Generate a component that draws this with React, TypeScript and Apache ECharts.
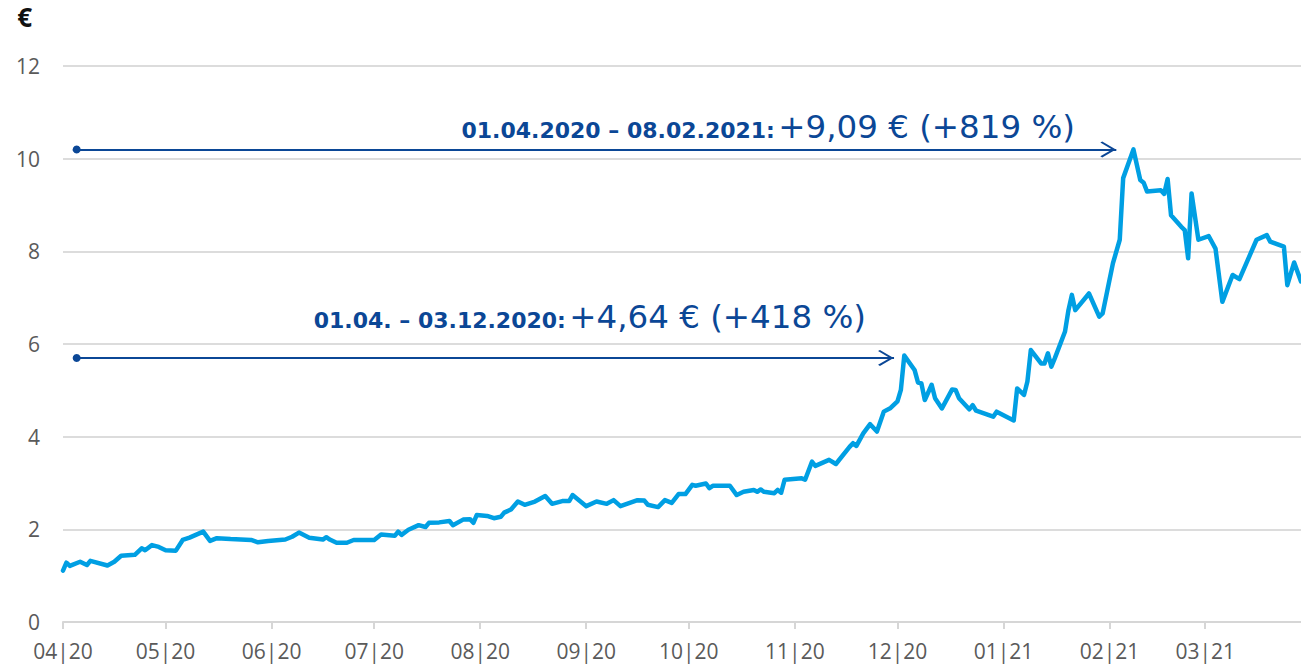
import React, { useEffect, useRef } from "react";
import * as echarts from "echarts";

const startDate = "2020-04-01";
const endDate = "2021-03-29";

const dates = [
  "2020-04-01","2020-04-02","2020-04-03","2020-04-06","2020-04-08","2020-04-09","2020-04-14","2020-04-16","2020-04-18","2020-04-22",
  "2020-04-24","2020-04-25","2020-04-27","2020-04-29","2020-05-01","2020-05-04","2020-05-06","2020-05-08","2020-05-12","2020-05-14",
  "2020-05-16","2020-05-20","2020-05-26","2020-05-28","2020-05-31","2020-06-05","2020-06-07","2020-06-09","2020-06-12","2020-06-16",
  "2020-06-17","2020-06-18","2020-06-20","2020-06-23","2020-06-25","2020-07-01","2020-07-03","2020-07-07","2020-07-08","2020-07-09",
  "2020-07-11","2020-07-14","2020-07-16","2020-07-17","2020-07-20","2020-07-23","2020-07-24","2020-07-27","2020-07-29","2020-07-30",
  "2020-07-31","2020-08-03","2020-08-05","2020-08-07","2020-08-08","2020-08-10","2020-08-12","2020-08-14","2020-08-17","2020-08-20",
  "2020-08-22","2020-08-25","2020-08-27","2020-08-28","2020-09-01","2020-09-04","2020-09-07","2020-09-09","2020-09-11","2020-09-16",
  "2020-09-18","2020-09-19","2020-09-22","2020-09-24","2020-09-26","2020-09-28","2020-09-30","2020-10-02","2020-10-03","2020-10-06",
  "2020-10-07","2020-10-08","2020-10-13","2020-10-15","2020-10-17","2020-10-20","2020-10-21","2020-10-22","2020-10-23","2020-10-26",
  "2020-10-27","2020-10-28","2020-10-29","2020-11-03","2020-11-04","2020-11-06","2020-11-07","2020-11-11","2020-11-13","2020-11-17",
  "2020-11-18","2020-11-19","2020-11-21","2020-11-23","2020-11-25","2020-11-27","2020-11-29","2020-12-01","2020-12-02","2020-12-03",
  "2020-12-06","2020-12-07","2020-12-08","2020-12-09","2020-12-11","2020-12-12","2020-12-14","2020-12-17","2020-12-18","2020-12-19",
  "2020-12-22","2020-12-23","2020-12-24","2020-12-29","2020-12-30","2021-01-04","2021-01-05","2021-01-07","2021-01-08","2021-01-09",
  "2021-01-12","2021-01-13","2021-01-14","2021-01-15","2021-01-16","2021-01-19","2021-01-20","2021-01-21","2021-01-22","2021-01-26",
  "2021-01-29","2021-01-30","2021-02-01","2021-02-02","2021-02-04","2021-02-05","2021-02-08","2021-02-10","2021-02-11","2021-02-12",
  "2021-02-16","2021-02-17","2021-02-18","2021-02-19","2021-02-22","2021-02-23","2021-02-24","2021-02-25","2021-02-27","2021-03-02",
  "2021-03-04","2021-03-06","2021-03-09","2021-03-11","2021-03-13","2021-03-16","2021-03-19","2021-03-20","2021-03-24","2021-03-25",
  "2021-03-27","2021-03-29"
];

const prices = [
  1.11,1.28,1.21,1.30,1.23,1.32,1.22,1.30,1.43,1.45,
  1.59,1.55,1.66,1.62,1.55,1.54,1.77,1.82,1.95,1.75,
  1.81,1.79,1.77,1.72,1.75,1.78,1.84,1.93,1.82,1.78,
  1.83,1.78,1.71,1.71,1.77,1.77,1.89,1.86,1.95,1.88,
  1.99,2.09,2.05,2.14,2.15,2.18,2.09,2.21,2.22,2.14,
  2.31,2.29,2.24,2.27,2.36,2.43,2.60,2.53,2.60,2.72,
  2.55,2.61,2.61,2.74,2.50,2.60,2.55,2.63,2.50,2.63,
  2.62,2.53,2.48,2.63,2.57,2.76,2.76,2.96,2.94,2.99,
  2.89,2.94,2.94,2.74,2.81,2.85,2.81,2.86,2.81,2.78,
  2.85,2.79,3.07,3.10,3.07,3.46,3.37,3.50,3.41,3.78,
  3.86,3.80,4.07,4.27,4.11,4.54,4.62,4.76,5.01,5.75,
  5.44,5.17,5.15,4.79,5.12,4.83,4.61,5.02,5.01,4.83,
  4.59,4.68,4.56,4.43,4.54,4.35,5.04,4.90,5.19,5.87,
  5.58,5.58,5.80,5.51,5.69,6.27,6.73,7.06,6.73,7.09,
  6.59,6.66,7.38,7.74,8.25,9.58,10.20,9.54,9.48,9.29,
  9.32,9.24,9.56,8.78,8.53,8.46,7.85,9.25,8.25,8.33,
  8.06,6.91,7.49,7.40,7.74,8.25,8.35,8.21,8.10,7.27,
  7.76,7.35
];

const yTicks = { min: 0, max: 12, interval: 2 };

// annotation arrows: [startDate, endDate, level]
const arrowLong = ["2020-04-05", "2021-02-03", 10.2];
const arrowShort = ["2020-04-05", "2020-11-30", 5.7];
const labelLongBold = "01.04.2020 – 08.02.2021:";
const labelLongValue = "+9,09 € (+819 %)";
const labelShortBold = "01.04. – 03.12.2020:";
const labelShortValue = "+4,64 € (+418 %)";

const LINE_BLUE = "#009fe3";
const DARK_BLUE = "#0b4796";
const FONT = "'Open Sans', sans-serif";
const ANNO_FONT = "'DejaVu Sans', sans-serif";

function buildCategories(): string[] {
  const out: string[] = [];
  const d = new Date(startDate + "T00:00:00Z");
  const end = new Date(endDate + "T00:00:00Z");
  while (d.getTime() <= end.getTime()) {
    out.push(d.toISOString().slice(0, 10));
    d.setUTCDate(d.getUTCDate() + 1);
  }
  return out;
}

const ARROW_PATH =
  "path://M10,0L10,0ZM10,12L20,22L18.6,23.4L10,14.8L1.4,23.4L0,22Z";

const annoRich = {
  b: { fontSize: 22, fontWeight: "bold", fill: DARK_BLUE, fontFamily: ANNO_FONT, verticalAlign: "bottom", padding: [0, 0, 2, 0] },
  r: { fontSize: 32.5, fill: DARK_BLUE, fontFamily: ANNO_FONT, verticalAlign: "bottom" },
};

export default function App() {
  const ref = useRef<HTMLDivElement>(null);
  useEffect(() => {
    if (!ref.current) return;
    const chart = echarts.init(ref.current, undefined, { renderer: "svg" });
    const categories = buildCategories();
    const isMonthStart = (_i: number, v: string) => v.slice(8, 10) === "01";
    const mk = (a: any[]) => [
      {
        coord: [categories.indexOf(a[0]), a[2]],
        symbol: "circle",
        symbolSize: 8,
      },
      {
        coord: [categories.indexOf(a[1]), a[2]],
        symbol: ARROW_PATH,
        symbolSize: [16, 32],
      },
    ];
    chart.setOption({
      animation: false,
      grid: { left: 63, right: 0, top: 66, bottom: 42, containLabel: false },
      xAxis: {
        type: "category",
        data: categories,
        boundaryGap: false,
        axisLine: { show: true, lineStyle: { color: "#d6d6d6", width: 2 } },
        axisTick: {
          show: true,
          interval: isMonthStart,
          length: 7,
          lineStyle: { color: "#d6d6d6", width: 2 },
        },
        axisLabel: {
          interval: isMonthStart,
          formatter: (v: string) => v.slice(5, 7) + "|" + v.slice(2, 4),
          color: "#5a5a5a",
          fontSize: 21,
          fontFamily: FONT,
          margin: 18,
        },
        splitLine: { show: false },
      },
      yAxis: {
        type: "value",
        min: yTicks.min,
        max: yTicks.max,
        interval: yTicks.interval,
        name: "€",
        nameLocation: "end",
        nameGap: 36,
        nameTextStyle: {
          align: "right",
          padding: [0, 31, 0, 0],
          color: "#111",
          fontSize: 26,
          fontWeight: "bold",
          fontFamily: FONT,
        },
        axisLine: { show: false },
        axisTick: { show: false },
        axisLabel: {
          color: "#5a5a5a",
          fontSize: 21,
          fontFamily: FONT,
          margin: 23,
          align: "right",
        },
        splitLine: { lineStyle: { color: "#dcdcdc", width: 2 } },
      },
      series: [
        {
          type: "line",
          data: dates.map((d, i) => [d, prices[i]]),
          showSymbol: false,
          symbol: "none",
          lineStyle: { color: LINE_BLUE, width: 4.5, join: "round", cap: "round" },
          z: 3,
          markLine: {
            silent: true,
            animation: false,
            label: { show: false },
            lineStyle: { color: DARK_BLUE, width: 2, type: "solid" },
            data: [mk(arrowLong), mk(arrowShort)],
          },
        },
      ],
      graphic: [
        {
          type: "text",
          x: 1075,
          y: 143,
          style: {
            text: `{b|${labelLongBold}} {r|${labelLongValue}}`,
            align: "right",
            verticalAlign: "bottom",
            rich: annoRich,
          },
        },
        {
          type: "text",
          x: 866,
          y: 333,
          style: {
            text: `{b|${labelShortBold}} {r|${labelShortValue}}`,
            align: "right",
            verticalAlign: "bottom",
            rich: annoRich,
          },
        },
      ],
    });
    return () => chart.dispose();
  }, []);
  return (
    <div
      ref={ref}
      style={{ position: "absolute", left: 0, top: 0, width: 1301, height: 664 }}
    />
  );
}
